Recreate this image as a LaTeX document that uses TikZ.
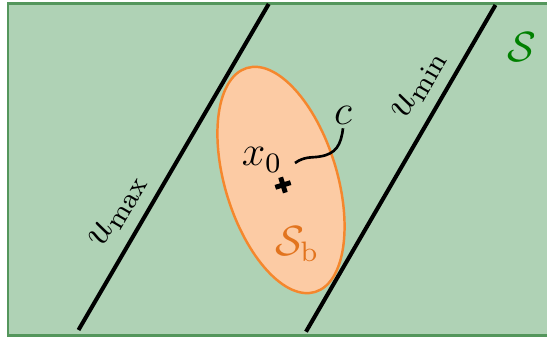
\documentclass[tikz,border=0pt]{standalone}
\usepackage{amsmath,amssymb}
\usepackage{tikz}
\usetikzlibrary{arrows.meta, positioning, calc}
\definecolor{setfill}{HTML}{AFD2B5}
\definecolor{setdraw}{HTML}{54965C}
\definecolor{ballfill}{HTML}{FCCBA4}
\definecolor{balldraw}{HTML}{F5872D}
\definecolor{setlabel}{HTML}{008000}
\definecolor{balllabel}{HTML}{E2741E}

\begin{document}
\begin{tikzpicture}[x=0.01cm, y=0.01cm, font=\large,
  bound/.style={line width=1.15pt}]
  \useasboundingbox (0,0) rectangle (547,340);
  \clip (0,0) rectangle (547,340);
  % Admissible set
  \draw[setdraw, fill=setfill, line width=0.85pt] (8,4) rectangle (580,336);
  \node[setlabel] (S) at (522,293) {$\mathcal{S}$};
  % Ball around the nominal point
  \draw[balldraw, fill=ballfill, line width=0.7pt, shift={(281,160)}, rotate=17]
    (0,0) ellipse (0.56cm and 1.17cm);
  \node[balllabel] (Sb) at (297,96) {$\mathcal{S}_\mathrm{b}$};
  % Input bounds
  \draw[bound] (78.5,10) -- node[pos=0.325, above, sloped] (umax) {$u_{\max}$} (268.7,336);
  \draw[bound] (306,8.3) -- node[pos=0.715, above, sloped] (umin) {$u_{\min}$} (495.5,335);
  % Nominal point
  \coordinate (x0) at (283,155);
  \draw[line width=1.4pt, shift={(x0)}, rotate=17] (-8,0) -- (8,0) (0,-8) -- (0,8);
  \node (x0lbl) at (262,180) {$x_0$};
  \node[inner sep=1pt] (c) at (343,225) {$c$};
  \coordinate (ctail) at (295,177);
  \draw[line width=0.75pt] (ctail) .. controls (305,184) and (312,182) .. (320,183.5)
    .. controls (336,186) and (341,195) .. (c.south);
\end{tikzpicture}
\end{document}
